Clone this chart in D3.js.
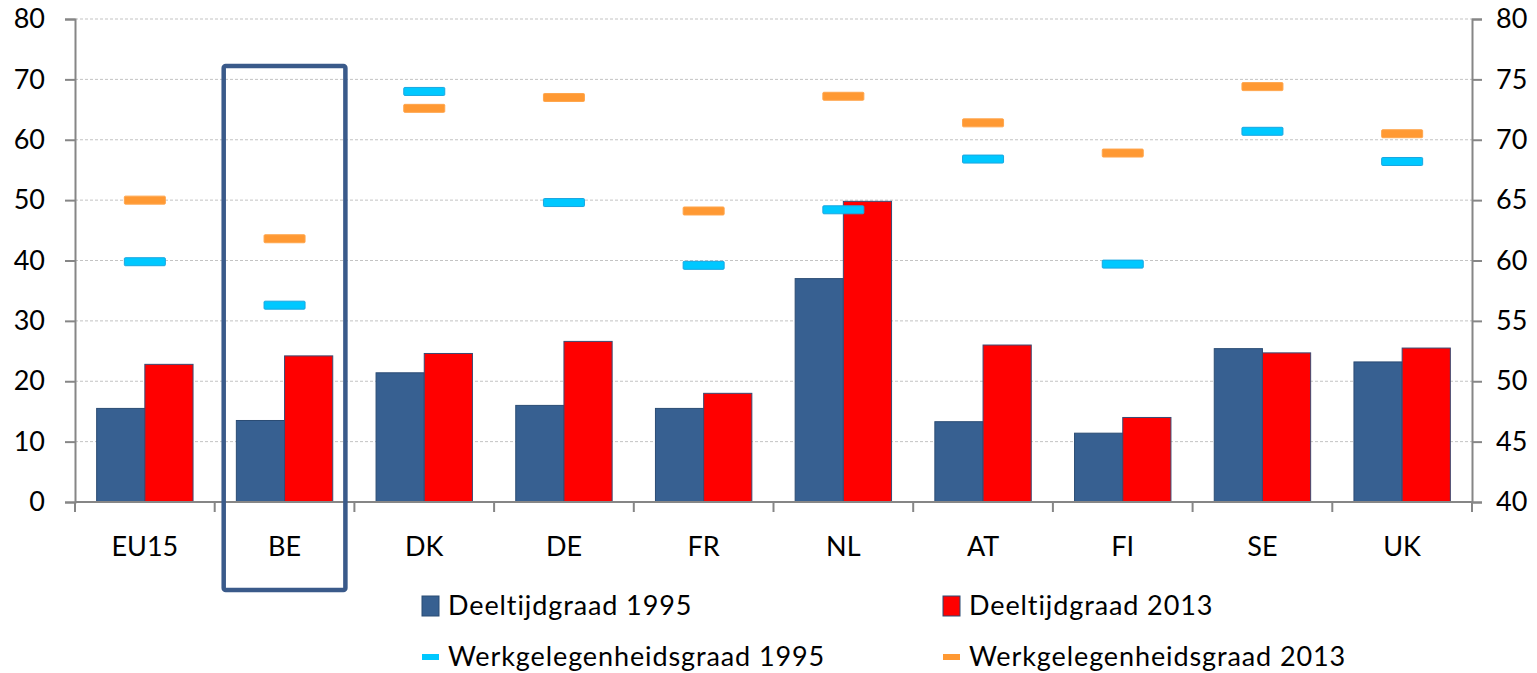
<!DOCTYPE html>
<html>
<head>
<meta charset="utf-8">
<script src="https://cdn.jsdelivr.net/npm/d3@7"></script>
<style>
  body { margin: 0; background: #fff; }
  text { font-family: Lato, "Open Sans", sans-serif; fill: #000; font-variant-ligatures: none; }
</style>
</head>
<body>
<div id="chart"></div>
<script>
// Data
var countries = ["EU15", "BE", "DK", "DE", "FR", "NL", "AT", "FI", "SE", "UK"];
var deeltijd1995 = [15.5, 13.5, 21.4, 16.0, 15.5, 37.0, 13.3, 11.4, 25.4, 23.2];
var deeltijd2013 = [22.8, 24.2, 24.6, 26.6, 18.0, 49.8, 26.0, 14.0, 24.7, 25.5];
var werk1995 = [59.9, 56.3, 74.0, 64.8, 59.6, 64.2, 68.4, 59.7, 70.7, 68.2];
var werk2013 = [65.0, 61.8, 72.6, 73.5, 64.1, 73.6, 71.4, 68.9, 74.4, 70.5];
var leftTicks = [0, 10, 20, 30, 40, 50, 60, 70, 80];
var rightTicks = [40, 45, 50, 55, 60, 65, 70, 75, 80];
var highlight = "BE";

// Set up the chart
var svgWidth = 1537;
var svgHeight = 673;
var margin = { top: 19, right: 65, bottom: 171, left: 75 };
var width = svgWidth - margin.left - margin.right;
var height = svgHeight - margin.top - margin.bottom;

var svg = d3.select("#chart").append("svg")
    .attr("width", svgWidth)
    .attr("height", svgHeight);

var chartGroup = svg.append("g")
    .attr("transform", `translate(${margin.left}, ${margin.top})`);

var xBand = d3.scaleBand().domain(countries).range([0, width]).paddingInner(0).paddingOuter(0);
var xInner = d3.scaleBand().domain(["1995", "2013"]).range([0, xBand.bandwidth() * 0.69]);
var innerOffset = (xBand.bandwidth() - xInner.range()[1]) / 2;
var yLeft = d3.scaleLinear().domain([0, 80]).range([height, 0]);
var yRight = d3.scaleLinear().domain([40, 80]).range([height, 0]);

// gridlines
chartGroup.append("g").selectAll("line")
    .data(leftTicks.slice(1))
    .enter().append("line")
    .attr("x1", 0).attr("x2", width)
    .attr("y1", d => yLeft(d)).attr("y2", d => yLeft(d))
    .attr("stroke", "#c3c3c3")
    .attr("stroke-width", 1)
    .attr("stroke-dasharray", "3,2");

// bars
var groups = chartGroup.selectAll(".grp")
    .data(countries)
    .enter().append("g")
    .attr("transform", d => `translate(${xBand(d) + innerOffset},0)`);

groups.append("rect")
    .attr("x", xInner("1995"))
    .attr("width", xInner.bandwidth())
    .attr("y", (d, i) => yLeft(deeltijd1995[i]))
    .attr("height", (d, i) => height - yLeft(deeltijd1995[i]))
    .attr("fill", "#376091")
    .attr("stroke", "#2b4c74")
    .attr("stroke-width", 1);

groups.append("rect")
    .attr("x", xInner("2013"))
    .attr("width", xInner.bandwidth())
    .attr("y", (d, i) => yLeft(deeltijd2013[i]))
    .attr("height", (d, i) => height - yLeft(deeltijd2013[i]))
    .attr("fill", "#ff0000")
    .attr("stroke", "#3b4a72")
    .attr("stroke-width", 1);

// employment dash markers (right axis)
var dashW = 41, dashH = 8;
chartGroup.selectAll(".w95")
    .data(countries)
    .enter().append("rect")
    .attr("x", d => xBand(d) + xBand.bandwidth() / 2 - dashW / 2)
    .attr("y", (d, i) => yRight(werk1995[i]) - dashH / 2)
    .attr("width", dashW).attr("height", dashH)
    .attr("rx", 1)
    .attr("fill", "#00c8ff")
    .attr("stroke", "#1aa6e0")
    .attr("stroke-width", 1);

chartGroup.selectAll(".w13")
    .data(countries)
    .enter().append("rect")
    .attr("x", d => xBand(d) + xBand.bandwidth() / 2 - dashW / 2)
    .attr("y", (d, i) => yRight(werk2013[i]) - dashH / 2)
    .attr("width", dashW).attr("height", dashH)
    .attr("rx", 1)
    .attr("fill", "#ff9933")
    .attr("stroke", "#ffa64d")
    .attr("stroke-width", 1);

// axes
var leftAxis = d3.axisLeft(yLeft).tickValues(leftTicks).tickSize(10).tickPadding(20);
var rightAxis = d3.axisRight(yRight).tickValues(rightTicks).tickSize(10).tickPadding(14);

var gl = chartGroup.append("g").call(leftAxis);
var gr = chartGroup.append("g").attr("transform", `translate(${width},0)`).call(rightAxis);

var gx = chartGroup.append("g").attr("transform", `translate(0,${height})`);
gx.append("line").attr("x1", 0).attr("x2", width).attr("y1", 0).attr("y2", 0)
    .attr("stroke", "#868686").attr("stroke-width", 2);
gx.selectAll(".xt")
    .data(d3.range(countries.length + 1))
    .enter().append("line")
    .attr("x1", i => i < countries.length ? xBand(countries[i]) : width)
    .attr("x2", i => i < countries.length ? xBand(countries[i]) : width)
    .attr("y1", 0).attr("y2", 10)
    .attr("stroke", "#868686").attr("stroke-width", 2);
gx.selectAll(".xl")
    .data(countries)
    .enter().append("text")
    .attr("x", d => xBand(d) + xBand.bandwidth() / 2)
    .attr("y", 54)
    .attr("text-anchor", "middle")
    .style("font-size", "27px")
    .text(d => d);

[gl, gr].forEach(function(g) {
    g.select(".domain").attr("stroke", "#868686").attr("stroke-width", 2);
    g.selectAll(".tick line").attr("stroke", "#868686").attr("stroke-width", 2);
    g.selectAll(".tick text").style("font-size", "27px").attr("fill", "#000");
});

// highlight box around BE
var hbX = xBand(highlight) + 9;
var hbW = xBand.bandwidth() - 18;
chartGroup.append("rect")
    .attr("x", hbX)
    .attr("y", yLeft(72.2))
    .attr("width", hbW)
    .attr("height", 590 - margin.top - yLeft(72.2))
    .attr("rx", 2)
    .attr("fill", "none")
    .attr("stroke", "#3a5a8a")
    .attr("stroke-width", 4.5);

// legend
var legendItems = [
    { label: "Deeltijdgraad 1995", color: "#376091", type: "box", col: 0, row: 0 },
    { label: "Deeltijdgraad 2013", color: "#ff0000", type: "box", col: 1, row: 0 },
    { label: "Werkgelegenheidsgraad 1995", color: "#00c8ff", type: "dash", col: 0, row: 1 },
    { label: "Werkgelegenheidsgraad 2013", color: "#ff9933", type: "dash", col: 1, row: 1 }
];
var legend = svg.append("g");
var lg = legend.selectAll("g")
    .data(legendItems)
    .enter().append("g")
    .attr("transform", d => `translate(${d.col === 0 ? 422 : 943},${d.row === 0 ? 606 : 657})`);
lg.filter(d => d.type === "box").append("rect")
    .attr("x", 0).attr("y", -10).attr("width", 17).attr("height", 20)
    .attr("fill", d => d.color)
    .attr("stroke", "#2b4c74").attr("stroke-width", 1);
lg.filter(d => d.type === "dash").append("rect")
    .attr("x", 0).attr("y", -3).attr("width", 17).attr("height", 6)
    .attr("fill", d => d.color);
lg.append("text")
    .attr("x", 26)
    .attr("y", 9)
    .style("font-size", "27px")
    .style("letter-spacing", "0.9px")
    .text(d => d.label);
</script>
</body>
</html>
